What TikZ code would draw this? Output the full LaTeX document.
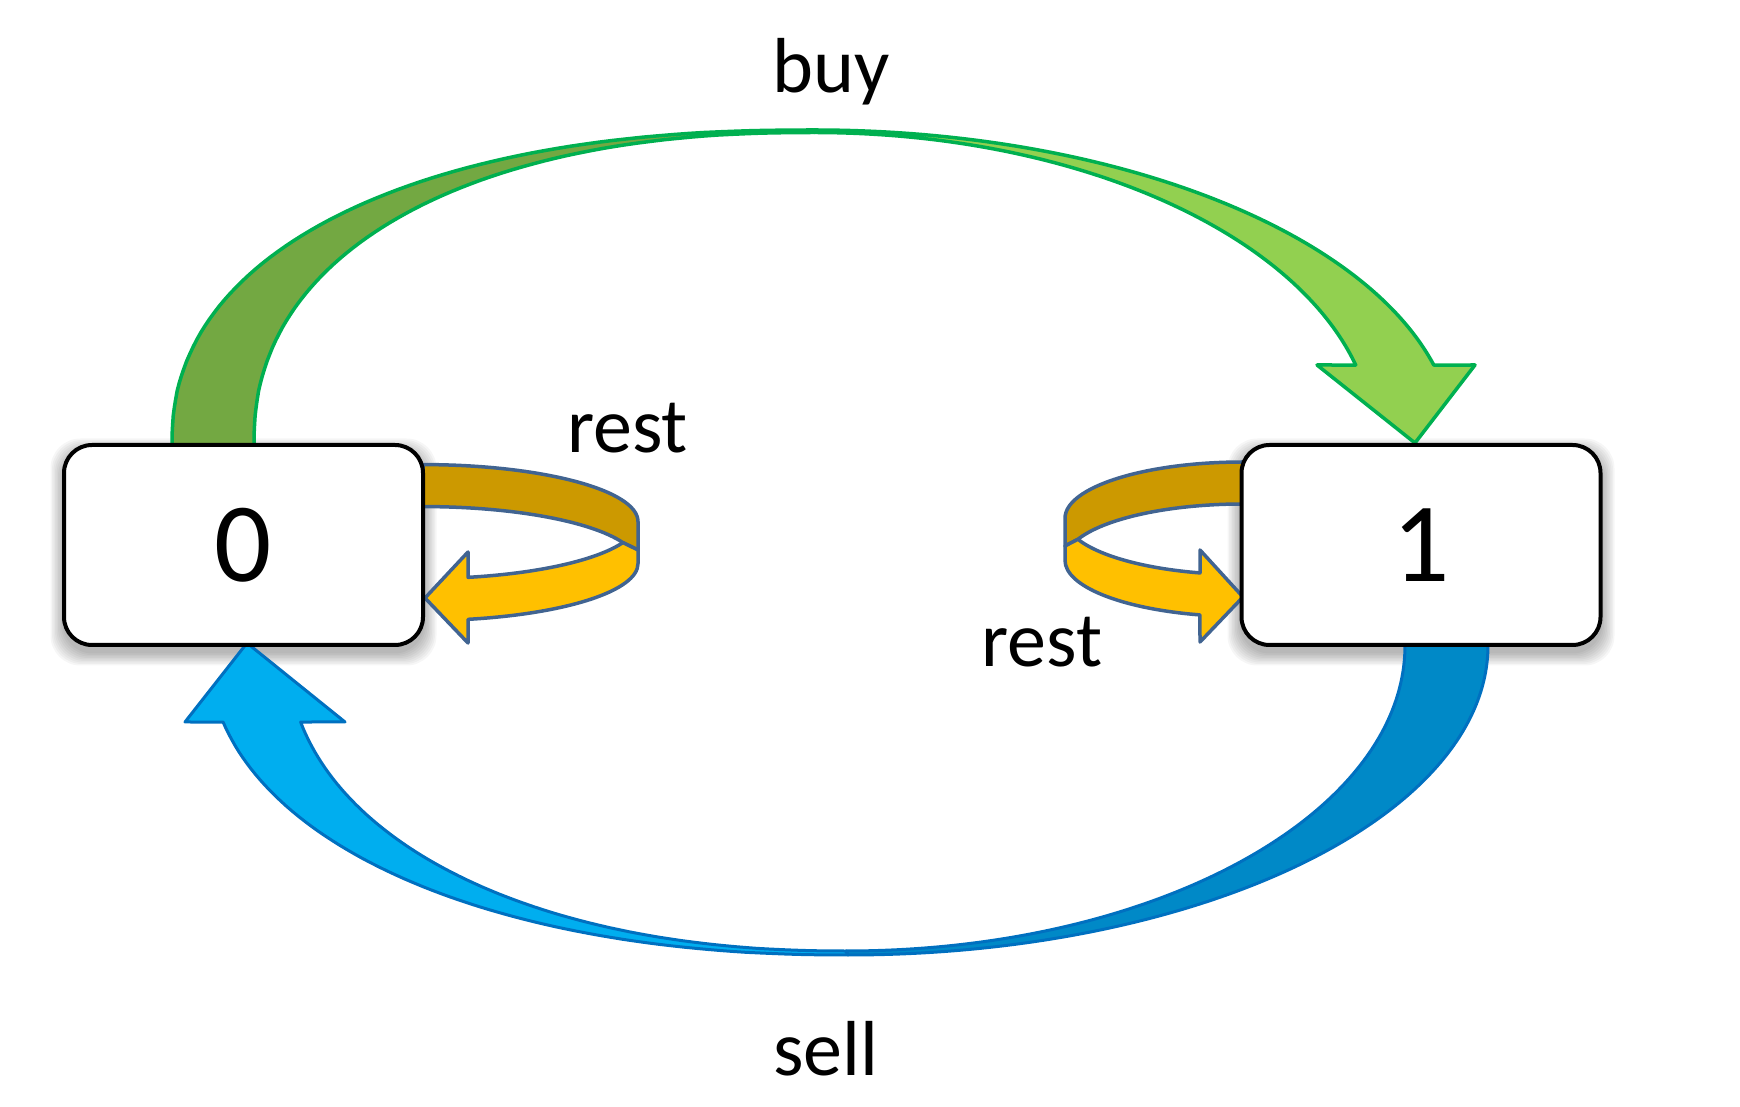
\documentclass[tikz,border=0pt]{standalone}
\usepackage{fontspec}
\setmainfont{Carlito}
\usetikzlibrary{calc}
\definecolor{gline}{RGB}{0,176,80}
\definecolor{gdark}{RGB}{115,168,66}
\definecolor{glight}{RGB}{146,208,80}
\definecolor{bline}{RGB}{0,112,192}
\definecolor{bdark}{RGB}{0,137,199}
\definecolor{blight}{RGB}{0,174,239}
\definecolor{oline}{RGB}{65,100,145}
\definecolor{odark}{RGB}{204,153,0}
\definecolor{olight}{RGB}{255,192,0}
\begin{document}
\begin{tikzpicture}[x=1pt,y=1pt,
  declare function={
    spx(\t,\n)=sign(cos(\t))*pow(max(abs(cos(\t)),0.00001),2/\n);
    spy(\t,\n)=sign(sin(\t))*pow(max(abs(sin(\t)),0.00001),2/\n);
  },
  state/.style={draw=black,line width=4pt,fill=white,rounded corners=28pt,
    minimum width=359pt,minimum height=200pt,inner sep=0pt,
    font=\fontsize{113}{120}\selectfont},
  lbl/.style={anchor=base,inner sep=0pt,font=\fontsize{78}{90}\selectfont},
  gpart/.style={draw=gline,line width=3.5pt,line join=round},
  bpart/.style={draw=bline,line width=3pt,line join=round},
  opart/.style={draw=oline,line width=3.5pt,line join=round},
  shadowlayer/.style={fill=black,opacity=0.035,rounded corners=30pt}]
\useasboundingbox (0,0) rectangle (1740,1106);

% shadows of the boxes
\foreach \i in {1,...,9}{
  \path[shadowlayer] ({64-1.5*\i},{461-7-1.5*\i}) rectangle ({423+1.5*\i},{661-7+1.5*\i});
  \path[shadowlayer] ({1241-1.5*\i},{461-7-1.5*\i}) rectangle ({1601+1.5*\i},{661-7+1.5*\i});
}

% buy arrow (green)
\filldraw[gpart,fill=gdark]
  plot[domain=180:90,samples=70] ({813.4+641.4*spx(\x,2.25)},{661+315*spy(\x,2.25)})
  -- plot[domain=90:180,samples=70] ({814.2+560.2*spx(\x,2.25)},{661+312.5*spy(\x,2.25)})
  -- cycle;
\filldraw[gpart,fill=glight]
  ($(813.4,661)+(90:641.4 and 315)$)
  arc[start angle=90,end angle=14.7,x radius=641.4,y radius=315]
  -- (1475,741) -- (1415,663) -- (1317,741)
  -- ($(814.2,661)+(14.83:560.2 and 312.5)$)
  arc[start angle=14.83,end angle=90,x radius=560.2,y radius=312.5] -- cycle;

% sell arrow (blue)
\filldraw[bpart,fill=bdark]
  ($(848,461)+(0:640 and 310)$)
  arc[start angle=0,end angle=-90,x radius=640,y radius=310]
  -- (846,155)
  arc[start angle=-90,end angle=0,x radius=559,y radius=306] -- cycle;
\filldraw[bpart,fill=blight]
  plot[domain=-90:-167.07,samples=70] ({848+640*spx(\x,2.15)},{461+310*spy(\x,2.15)})
  -- (185,384) -- (247,463) -- (345,384)
  -- plot[domain=-166.885:-90,samples=70] ({846+559*spx(\x,2.15)},{461+306*spy(\x,2.15)})
  -- cycle;

% rest loop at state 0
\filldraw[opart,fill=odark]
  (423,641.4)
  arc[start angle=90,end angle=0,x radius=215,y radius=57]
  -- (638,556) -- (622.9,563.4)
  arc[start angle=21.6,end angle=90,x radius=215,y radius=57] -- cycle;
\filldraw[opart,fill=olight]
  (622.9,563.4)
  arc[start angle=-21.6,end angle=-77.9,x radius=215,y radius=57]
  -- (468,554) -- (425,508) -- (468,463)
  -- ($(423,542.4)+(-77.9:215 and 57)$)
  arc[start angle=-77.9,end angle=0,x radius=215,y radius=57]
  -- (638,556) -- cycle;

% rest loop at state 1
\filldraw[opart,fill=odark]
  (1243,644)
  arc[start angle=90,end angle=180,x radius=178,y radius=56.3]
  -- (1065,560) -- (1077.9,566.7)
  arc[start angle=158.1,end angle=90,x radius=178,y radius=56.3] -- cycle;
\filldraw[opart,fill=olight]
  (1077.9,566.7)
  arc[start angle=201.9,end angle=256,x radius=178,y radius=56.3]
  -- (1200,556) -- (1243,509) -- (1200,464)
  -- ($(1243,545.7)+(256:178 and 56.3)$)
  arc[start angle=256,end angle=180,x radius=178,y radius=56.3]
  -- (1065,560) -- cycle;

% states
\node[state] (s0) at (243.5,561) {0};
\node[state] (s1) at (1421,561) {1};

% labels
\node[lbl] (buy) at (831,1013) {buy};
\node[lbl] (rest0) at (627.5,653) {rest};
\node[lbl] (rest1) at (1042,439) {rest};
\node[lbl] (sell) at (826,31) {sell};
\end{tikzpicture}
\end{document}
